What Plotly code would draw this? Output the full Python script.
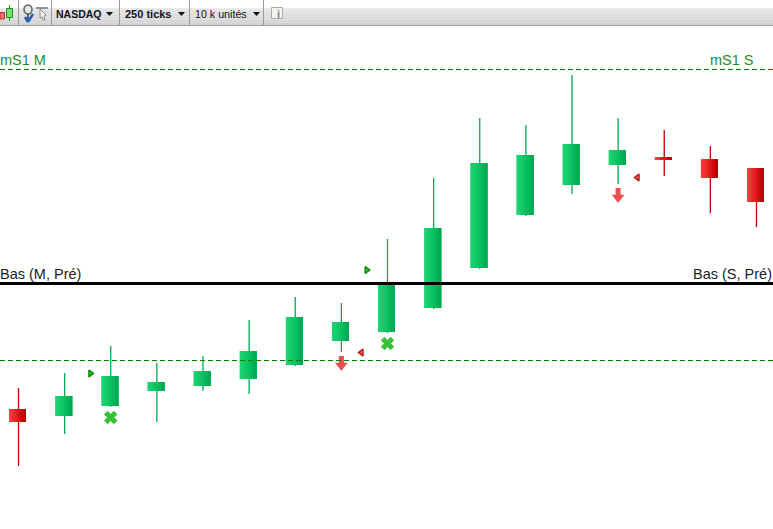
import plotly.graph_objects as go

W = 773
H = 529

# Candles (price scale of the picture, left to right)
opens = [120, 113, 123, 138, 143, 150, 164, 188, 197, 221, 261, 314, 344, 364, 372, 370, 361]
highs = [141, 156, 183, 166, 173, 209, 232, 226, 290, 351, 411, 404, 454, 411, 399, 383, 361]
lows = [63, 95, 122, 107, 138, 135, 163, 177, 196, 220, 260, 313, 335, 345, 353, 316, 302]
closes = [107, 133, 153, 147, 158, 178, 212, 207, 245, 301, 366, 374, 385, 379, 369, 351, 327]

# Levels
level_ms1 = 459.5
level_bas = 245.5
level_low = 168.5

# Signal markers
tri_right_x = [1.56, 7.55]
tri_right_y = [155.5, 259]
tri_left_x = [7.436, 13.42]
tri_left_y = [176.5, 351.5]
cross_x = [2, 8]
cross_y = [111.5, 185.5]
arrow_x = [7, 13]
arrow_stem_top = [173, 341]
arrow_stem_bottom = [166, 334]
arrow_head_y = [163.5, 331.5]

# Body gradients, left to right
green_shades = ["#1dd372", "#19d06e", "#15cc6a", "#11c766", "#0dc262", "#09bc5e", "#05b65a", "#02b056", "#00aa52"]
red_shades = ["#ff3c3c", "#f83434", "#f02c2c", "#e72424", "#dd1c1c", "#d31414", "#ca0d0d", "#c10606", "#b80000"]

BODY = 0.3686
BODY_SHIFT = -0.0217  # bodies sit one pixel left of their wick
X_RANGE = [-0.4011, 16.358]


def px_x(v):
    return v / W


def px_y(v):
    return 1 - v / H


def rect(x0, y0, x1, y1, fill, line=None):
    return dict(type="rect", xref="paper", yref="paper", layer="above",
                x0=px_x(x0), x1=px_x(x1), y0=px_y(y0), y1=px_y(y1),
                fillcolor=fill, line=dict(color=line or fill, width=1 if line else 0))


def seg(x0, y0, x1, y1, color, width=1):
    return dict(type="line", xref="paper", yref="paper", layer="above",
                x0=px_x(x0), x1=px_x(x1), y0=px_y(y0), y1=px_y(y1),
                line=dict(color=color, width=width))


def caret(x, y):
    path = f"M {px_x(x)} {px_y(y)} L {px_x(x + 7)} {px_y(y)} L {px_x(x + 3.5)} {px_y(y + 4)} Z"
    return dict(type="path", xref="paper", yref="paper", layer="above", path=path,
                fillcolor="#111111", line=dict(width=0))


idx = list(range(len(opens)))
up = [i for i in idx if closes[i] > opens[i]]
down = [i for i in idx if closes[i] <= opens[i]]

fig = go.Figure()

# Bodies: each shade is painted from its own start to the right edge, to fake the gradient
for group, shades in ((up, green_shades), (down, red_shades)):
    for k, shade in enumerate(shades):
        start = -BODY / 2 + BODY_SHIFT + k * BODY / len(shades)
        fig.add_trace(go.Bar(
            x=group,
            y=[abs(closes[i] - opens[i]) for i in group],
            base=[min(opens[i], closes[i]) for i in group],
            width=BODY - k * BODY / len(shades),
            offset=start,
            marker=dict(color=shade, line=dict(width=0)),
            hoverinfo="skip",
        ))

# Wicks, split so they do not run across the body
for group, color in ((up, "#00aa52"), (down, "#c00000")):
    wick_x = []
    wick_y = []
    for i in group:
        wick_x += [i, i, None, i, i, None]
        wick_y += [lows[i], min(opens[i], closes[i]), None, max(opens[i], closes[i]), highs[i], None]
    fig.add_trace(go.Scatter(x=wick_x, y=wick_y, mode="lines",
                             line=dict(color=color, width=1.3), hoverinfo="skip"))

# Signals
fig.add_trace(go.Scatter(x=tri_right_x, y=tri_right_y, mode="markers", hoverinfo="skip",
                         marker=dict(symbol="triangle-right", size=6, color="#35c23a",
                                     line=dict(color="#0a8a0a", width=1.5))))
fig.add_trace(go.Scatter(x=tri_left_x, y=tri_left_y, mode="markers", hoverinfo="skip",
                         marker=dict(symbol="triangle-left", size=6, color="#f06060",
                                     line=dict(color="#b81c1c", width=1.5))))
fig.add_trace(go.Scatter(x=cross_x, y=cross_y, mode="markers", hoverinfo="skip",
                         marker=dict(symbol="x", size=11, color="#38c038",
                                     line=dict(color="#38c038", width=1))))
stem_x = []
stem_y = []
for x, top, bottom in zip(arrow_x, arrow_stem_top, arrow_stem_bottom):
    stem_x += [x, x, None]
    stem_y += [top, bottom, None]
fig.add_trace(go.Scatter(x=stem_x, y=stem_y, mode="lines", hoverinfo="skip",
                         line=dict(color="#e65050", width=5)))
fig.add_trace(go.Scatter(x=arrow_x, y=arrow_head_y, mode="markers", hoverinfo="skip",
                         marker=dict(symbol="triangle-down", size=11, color="#e65050", line=dict(width=0))))

# Horizontal levels
fig.add_hline(y=level_ms1, line=dict(color="#008000", width=1, dash="5px,3px"))
fig.add_hline(y=level_low, line=dict(color="#008000", width=1, dash="5px,3px"))
fig.add_hline(y=level_bas, line=dict(color="#000000", width=3))

# Toolbar
shapes = []
toolbar_top = ["#f2f2f2", "#eeeeee", "#eaeaea", "#e6e6e6", "#e2e2e2", "#dedede", "#dadada", "#d6d6d6", "#d2d2d2"]
for k, c in enumerate(toolbar_top):
    shapes.append(rect(0, k * 25 / 9, W, (k + 1) * 25 / 9, c))
shapes.append(seg(0, 25.5, W, 25.5, "#a0a0a0"))
for sep_x in [18.5, 51.5, 119.5, 189.5, 263.5]:
    shapes.append(seg(sep_x, 0, sep_x, 25, "#9a9a9a"))

# Small candle icon
shapes.append(rect(0, 12.5, 4.5, 19, "#f07070", "#c03030"))
shapes.append(seg(9.5, 5, 9.5, 21, "#209020"))
shapes.append(rect(6.5, 8.5, 12.5, 17.5, "#70e070", "#209020"))

# Pin and cursor icons
shapes.append(dict(type="circle", xref="paper", yref="paper", layer="above",
                   x0=px_x(24), x1=px_x(32), y0=px_y(14), y1=px_y(5),
                   fillcolor="#e8e8e8", line=dict(color="#606060", width=1.5)))
shapes.append(seg(28, 14, 28, 21, "#606060", 2))
shapes.append(seg(25, 17, 28, 22, "#1f5fc0", 2.5))
shapes.append(seg(28, 22, 33, 14, "#1f5fc0", 2.5))
shapes.append(seg(36, 8, 48, 8, "#707070", 1.5))
shapes.append(dict(type="path", xref="paper", yref="paper", layer="above",
                   path=(f"M {px_x(40)} {px_y(9)} L {px_x(46)} {px_y(15)} L {px_x(44)} {px_y(16)} "
                         f"L {px_x(45)} {px_y(20)} L {px_x(43)} {px_y(20)} L {px_x(42)} {px_y(17)} "
                         f"L {px_x(40)} {px_y(18)} Z"),
                   fillcolor="#f0f0f0", line=dict(color="#909090", width=1)))

# Dropdown carets and info box
for cx in [106, 178, 253]:
    shapes.append(caret(cx, 12))
shapes.append(rect(271.5, 7.5, 282.5, 18.5, "#f4f4f4", "#a8a8a8"))

fig.update_layout(shapes=shapes)


def toolbar_text(x, text, bold=False, color="#111122", size=11):
    fig.add_annotation(xref="paper", yref="paper", x=px_x(x), y=px_y(13.5), text=f"<b>{text}</b>" if bold else text,
                       showarrow=False, xanchor="left", yanchor="middle", align="left",
                       font=dict(family="Liberation Sans", size=size, color=color))


toolbar_text(54, "NASDAQ", bold=True, size=10.5)
toolbar_text(123, "250 ticks", bold=True)
toolbar_text(193, "10 k unités", size=10.7)
toolbar_text(274.5, "i", bold=True, color="#808080", size=11)


def level_label(x, y, text, color, anchor):
    fig.add_annotation(xref="paper", yref="paper", x=px_x(x), y=px_y(y), text=text,
                       showarrow=False, xanchor=anchor, yanchor="middle",
                       font=dict(family="Liberation Sans", size=14.5, color=color))


level_label(-2, 60, "mS1 M", "#2a8a1a", "left")
level_label(756, 60, "mS1 S", "#2a8a1a", "right")
level_label(-2, 274, "Bas (M, Pré)", "#222222", "left")
level_label(774, 274, "Bas (S, Pré)", "#222222", "right")

fig.update_layout(
    width=W,
    height=H,
    margin=dict(l=0, r=0, t=0, b=0),
    paper_bgcolor="white",
    plot_bgcolor="white",
    showlegend=False,
    barmode="overlay",
    xaxis=dict(range=X_RANGE, visible=False, fixedrange=True),
    yaxis=dict(range=[0, H], visible=False, fixedrange=True),
)

fig.write_html("out.html", config={"displayModeBar": False},
               post_script="document.body.style.margin='0';document.body.style.overflow='hidden';")
